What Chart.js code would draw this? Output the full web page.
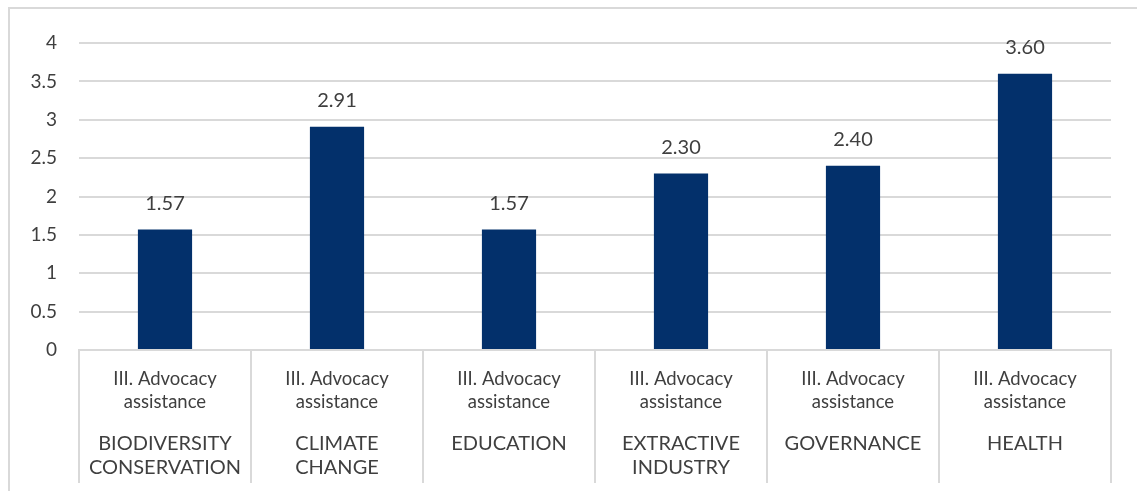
<!DOCTYPE html>
<html>
<head>
<meta charset="utf-8">
<script src="https://cdn.jsdelivr.net/npm/chart.js@4/dist/chart.umd.min.js"></script>
<style>
html,body{margin:0;padding:0;background:#fff;}
#wrap{width:1137px;height:491px;position:relative;}
</style>
</head>
<body>
<div id="wrap"><canvas id="c" width="1137" height="491"></canvas></div>
<script>
const subLabels = ["III. Advocacy", "assistance"];
const groups = [
  ["BIODIVERSITY", "CONSERVATION"],
  ["CLIMATE", "CHANGE"],
  ["EDUCATION"],
  ["EXTRACTIVE", "INDUSTRY"],
  ["GOVERNANCE"],
  ["HEALTH"]
];
const categories = ["BIODIVERSITY CONSERVATION", "CLIMATE CHANGE", "EDUCATION", "EXTRACTIVE INDUSTRY", "GOVERNANCE", "HEALTH"];
const values = [1.57, 2.91, 1.57, 2.30, 2.40, 3.60];
const yTicks = [0, 0.5, 1, 1.5, 2, 2.5, 3, 3.5, 4];

const FONT = "Lato, 'Open Sans', sans-serif";
const TXT = "#3f3f3f";
const GRID = "#d9d9d9";

const customPlugin = {
  id: 'custom',
  beforeDraw(chart) {
    const ctx = chart.ctx;
    ctx.save();
    ctx.strokeStyle = GRID;
    ctx.lineWidth = 2;
    ctx.beginPath();
    ctx.moveTo(9, 491); ctx.lineTo(9, 8); ctx.lineTo(1137, 8);
    ctx.stroke();
    ctx.restore();
  },
  afterDraw(chart) {
    const ctx = chart.ctx;
    const xs = chart.scales.x;
    const meta = chart.getDatasetMeta(0);
    ctx.save();
    ctx.fillStyle = TXT;
    ctx.textAlign = 'center';
    ctx.textBaseline = 'middle';
    // data labels
    ctx.font = "20px " + FONT;
    meta.data.forEach((bar, i) => {
      ctx.fillText(values[i].toFixed(2), bar.x, bar.y - 26);
    });
    // category labels
    ctx.font = "18.5px " + FONT;
    categories.forEach((c, i) => {
      const x = xs.getPixelForValue(i);
      ctx.fillText(subLabels[0], x, 379);
      ctx.fillText(subLabels[1], x, 402);
    });
    ctx.font = "20px " + FONT;
    categories.forEach((c, i) => {
      const x = xs.getPixelForValue(i);
      groups[i].forEach((line, j) => {
        ctx.fillText(line, x, 444 + j * 24);
      });
    });
    ctx.restore();
  }
};

new Chart(document.getElementById('c'), {
  type: 'bar',
  data: {
    labels: categories,
    datasets: [{
      data: values,
      backgroundColor: '#03306b',
      borderWidth: 0,
      categoryPercentage: 1,
      barPercentage: 0.315
    }]
  },
  options: {
    responsive: false,
    animation: false,
    events: [],
    layout: { padding: { top: 43, right: 26, left: 0, bottom: 0 } },
    plugins: { legend: { display: false }, tooltip: { enabled: false } },
    scales: {
      x: {
        offset: true,
        ticks: { display: false },
        grid: { offset: true, drawOnChartArea: false, drawTicks: true, tickLength: 133, color: GRID, lineWidth: 2 },
        border: { display: true, color: GRID, width: 2 },
        afterFit(s) { s.height = 141; }
      },
      y: {
        min: 0, max: 4,
        afterBuildTicks(s) { s.ticks = yTicks.map(v => ({ value: v })); },
        ticks: {
          color: TXT,
          font: { family: FONT, size: 19 },
          padding: 22,
          callback: v => String(v)
        },
        grid: { color: GRID, lineWidth: 2, drawTicks: false },
        border: { display: false },
        afterFit(s) { s.width = 79; }
      }
    }
  },
  plugins: [customPlugin]
});
</script>
</body>
</html>
